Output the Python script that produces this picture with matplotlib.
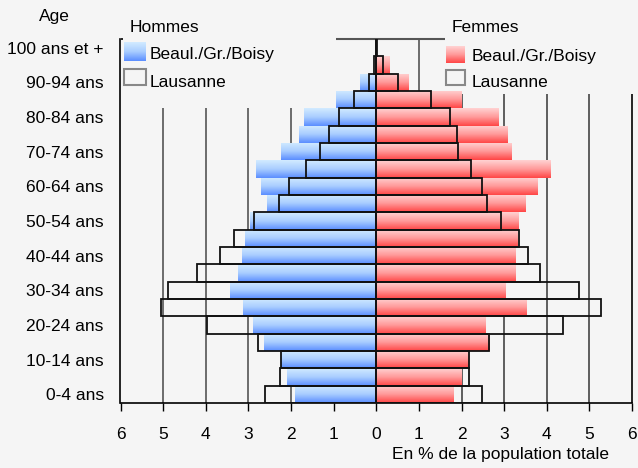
import numpy as np
import matplotlib
matplotlib.use("Agg")
import matplotlib.pyplot as plt
from matplotlib.colors import LinearSegmentedColormap
from matplotlib.patches import Rectangle

plt.rcParams['font.family'] = ['Liberation Sans', 'DejaVu Sans']
plt.rcParams['font.size'] = 12.5

# age groups, bottom to top
ages = ['0-4 ans', '5-9 ans', '10-14 ans', '15-19 ans', '20-24 ans', '25-29 ans',
        '30-34 ans', '35-39 ans', '40-44 ans', '45-49 ans', '50-54 ans', '55-59 ans',
        '60-64 ans', '65-69 ans', '70-74 ans', '75-79 ans', '80-84 ans', '85-89 ans',
        '90-94 ans', '95-99 ans', '100 ans et +']

# % of total population
hommes_bgb = [1.91, 2.10, 2.23, 2.64, 2.90, 3.13, 3.42, 3.25, 3.16, 3.09, 2.97,
              2.57, 2.71, 2.83, 2.24, 1.82, 1.70, 0.95, 0.39, 0.04, 0.0]
hommes_lau = [2.61, 2.26, 2.24, 2.77, 3.97, 5.05, 4.88, 4.21, 3.66, 3.34, 2.87,
              2.28, 2.05, 1.64, 1.32, 1.11, 0.87, 0.53, 0.17, 0.05, 0.01]
femmes_bgb = [1.82, 2.01, 2.16, 2.66, 2.57, 3.53, 3.04, 3.27, 3.27, 3.31, 3.35,
              3.51, 3.79, 4.10, 3.18, 3.09, 2.88, 2.00, 0.76, 0.32, 0.0]
femmes_lau = [2.48, 2.18, 2.17, 2.65, 4.39, 5.27, 4.76, 3.84, 3.56, 3.34, 2.92,
              2.59, 2.47, 2.23, 1.92, 1.90, 1.74, 1.29, 0.50, 0.16, 0.02]

bg = '#f5f5f5'
blue_cmap = LinearSegmentedColormap.from_list('b', ['#5b8eff', '#a9cdff', '#d2ebff'])
red_cmap = LinearSegmentedColormap.from_list('r', ['#ff4646', '#ff9a9a', '#ffd2d2'])
grad = np.linspace(0, 1, 64).reshape(-1, 1)

W, H = 638, 468
fig = plt.figure(figsize=(W / 100, H / 100), dpi=100, facecolor=bg)
ax = fig.add_axes([120.5 / W, 65 / H, 511.5 / W, 364 / H], facecolor=bg)


def px(x0, y0, x1, y1):
    # pixel box (top-left origin) -> figure fraction rect
    return [x0 / W, 1 - y1 / H, (x1 - x0) / W, (y1 - y0) / H]


y = np.arange(len(ages))

# gridlines (cut where the legends sit)
ax.vlines([-5, -4, -3, -2, -1], -0.5, 16.52, color='#555555', lw=1.2, zorder=1)
ax.vlines([2, 3, 4, 5], -0.5, 17.33, color='#444444', lw=1.2, zorder=1)
ax.vlines([1], -0.5, 20.5, color='#555555', lw=1.2, zorder=1)
ax.vlines([6], -0.5, 17.33, color='black', lw=1.2, zorder=1, clip_on=False)
ax.hlines(20.5, -0.95, 1.61, color='#555555', lw=1.5, zorder=1, clip_on=False)
ax.hlines(20.5, -6, -5.93, color='black', lw=1.2, zorder=1, clip_on=False)


def gradient_bars(bars, cmap):
    for b in bars:
        w = b.get_width()
        if w == 0:
            continue
        x0, y0, h = b.get_x(), b.get_y(), b.get_height()
        im = ax.imshow(grad, extent=[x0, x0 + w, y0, y0 + h], origin='lower',
                       cmap=cmap, aspect='auto', interpolation='bilinear', zorder=2)
        im.set_clip_path(b)


bars_h = ax.barh(y, -np.array(hommes_bgb), height=1.0, color='none', lw=0)
bars_f = ax.barh(y, femmes_bgb, height=1.0, color='none', lw=0)
gradient_bars(bars_h, blue_cmap)
gradient_bars(bars_f, red_cmap)

ax.barh(y, -np.array(hommes_lau), height=1.0, fill=False, edgecolor='#111111', lw=1.3, zorder=3)
ax.barh(y, femmes_lau, height=1.0, fill=False, edgecolor='#111111', lw=1.3, zorder=3)

ax.set_xlim(-6, 6)
ax.set_ylim(-0.5, 20.5)
ticks = np.arange(-6, 7)
ax.set_xticks(ticks)
ax.set_xticklabels([str(abs(t)) for t in ticks])
ax.set_yticks(y[::2])
ax.set_yticklabels(ages[::2])
ax.tick_params(axis='x', length=6, width=1, pad=11)
ax.tick_params(axis='y', length=0, pad=12)
for s in ['top', 'right']:
    ax.spines[s].set_visible(False)
for s in ['left', 'bottom']:
    ax.spines[s].set_linewidth(1.2)

# titles and axis text
fig.text(54.5 / W, 1 - 21 / H, 'Age', ha='center', va='baseline')
fig.text(130 / W, 1 - 32 / H, 'Hommes', ha='left', va='baseline')
fig.text(451.5 / W, 1 - 32 / H, 'Femmes', ha='left', va='baseline')
fig.text(500 / W, 1 - 459 / H, 'En % de la population totale', ha='center', va='baseline')

# hand-made legends
for box, cmap in [((124, 41.7, 146, 60.7), blue_cmap), ((446, 45.7, 465, 62.7), red_cmap)]:
    sw = fig.add_axes(px(*box))
    sw.imshow(grad, origin='lower', cmap=cmap, aspect='auto', interpolation='bilinear')
    sw.axis('off')
for box in [(124, 69.3, 146, 85), (446, 70, 465, 85)]:
    r = px(*box)
    fig.patches.append(Rectangle(r[:2], r[2], r[3], transform=fig.transFigure,
                                 fill=False, edgecolor='#888888', lw=1.5))
fig.text(150 / W, 1 - 59.3 / H, 'Beaul./Gr./Boisy', va='baseline')
fig.text(150 / W, 1 - 86.7 / H, 'Lausanne', va='baseline')
fig.text(471.7 / W, 1 - 60.7 / H, 'Beaul./Gr./Boisy', va='baseline')
fig.text(471.7 / W, 1 - 87.3 / H, 'Lausanne', va='baseline')

fig.savefig('out.png', dpi=100, facecolor=bg)
